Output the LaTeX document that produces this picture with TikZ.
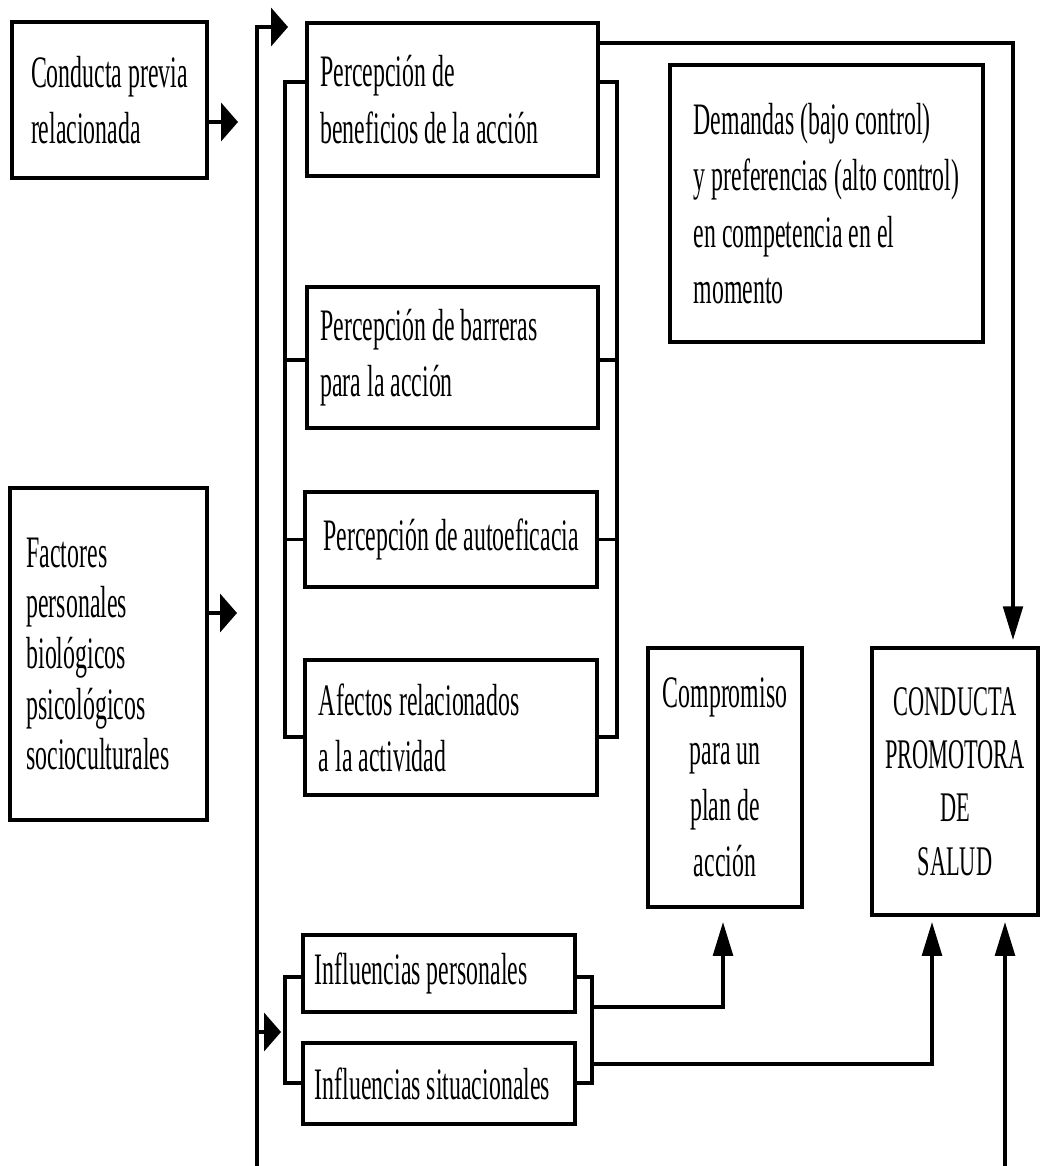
\documentclass[tikz,border=0pt]{standalone}
\usepackage{fontspec}
\setmainfont{Liberation Serif}[FakeStretch=0.53]
\usetikzlibrary{arrows.meta}

\begin{document}
\begin{tikzpicture}[x=0.025cm,y=-0.025cm,
box/.style={draw,line width=3pt,inner sep=0pt,font=\fontsize{32}{40}\selectfont},
leftbox/.style={box,align=flush left},
midbox/.style={box,align=center},
link/.style={line width=2.4pt},
harr/.style={link,-{Triangle[length=12pt,width=27pt]}},
varr/.style={link,-{Triangle[length=24pt,width=14pt]}}]
\useasboundingbox (0,0) rectangle (1044,1166);

% left column
\node[leftbox,minimum width=4.875cm,minimum height=3.9cm] (prev) at (109.5,100) {Conducta previa\\relacionada};
\node[leftbox,minimum width=4.925cm,minimum height=8.3cm,text width=4.1cm,font=\fontsize{32}{36}\selectfont] (fact) at (108.5,654) {Factores\\personales\\biológicos\\psicológicos\\socioculturales};

% perceptions
\node[leftbox,minimum width=7.275cm,minimum height=3.825cm,text width=6.6cm] (bene) at (452.5,99.5) {Percepción de\\beneficios de la acción};
\node[leftbox,minimum width=7.275cm,minimum height=3.525cm,text width=6.6cm] (barr) at (452.5,357.5) {Percepción de barreras\\para la acción};
\node[midbox,minimum width=7.3cm,minimum height=2.375cm] (auto) at (451,539.5) {Percepción de autoeficacia};
\node[leftbox,minimum width=7.3cm,minimum height=3.375cm,text width=6.6cm] (afec) at (451,727.5) {Afectos relacionados\\a la actividad};

% right part
\node[leftbox,minimum width=7.825cm,minimum height=6.925cm] (dema) at (826.5,203.5) {Demandas (bajo control)\\y preferencias (alto control)\\en competencia en el\\momento};
\node[midbox,minimum width=3.85cm,minimum height=6.475cm] (comp) at (725,777.5) {Compromiso\\para un\\plan de\\acción};
\node[midbox,minimum width=4.15cm,minimum height=6.675cm,font=\fontsize{30}{38}\selectfont] (cond) at (955,781.5) {CONDUCTA\\PROMOTORA\\DE\\SALUD};

% influences
\node[leftbox,minimum width=6.8cm,minimum height=1.925cm,text width=6.2cm] (pers) at (439,973.5) {Influencias personales};
\node[leftbox,minimum width=6.8cm,minimum height=2.025cm,text width=6.2cm] (situ) at (439,1083.5) {Influencias situacionales};

% free ends
\coordinate (prevtip) at (238,122);
\coordinate (facttip) at (237,613);
\coordinate (foot) at (257,1166);
\coordinate (headtip) at (288,27);
\coordinate (infltip) at (281,1032);
\coordinate (condtip) at (1013,640);
\coordinate (comptip) at (723,922);
\coordinate (condtipa) at (932,922);
\coordinate (foot2) at (1005,1166);
\coordinate (condtipb) at (1005,922);

\draw[harr] (prev.east |- prevtip) -- (prevtip);
\draw[harr] (fact.east |- facttip) -- (facttip);
\draw[harr] (foot) |- (headtip);
\draw[harr] (foot |- infltip) -- (infltip);

% brackets round the perceptions
\coordinate (lbr) at (285,82);
\coordinate (rbr) at (617,82);
\draw[link] (bene.west |- lbr) -- (lbr) |- (afec.west |- 0,737);
\draw[link] (barr.west |- 0,360) -- (lbr |- 0,360);
\draw[link] (auto.west) -- (lbr |- auto.west);
\draw[link] (bene.east |- rbr) -- (rbr) |- (afec.east |- 0,737);
\draw[link] (barr.east |- 0,360) -- (rbr |- 0,360);
\draw[link] (auto.east) -- (rbr |- auto.east);
\draw[varr] (bene.east |- 0,43) -| (condtip);

% brackets round the influences
\coordinate (ilb) at (285,977);
\coordinate (irb) at (592,977);
\draw[link] (pers.west |- ilb) -- (ilb) |- (situ.west |- 0,1083);
\draw[link] (pers.east |- irb) -- (irb) |- (situ.east |- 0,1083);
\draw[varr] (irb |- 0,1007) -| (comptip);
\draw[varr] (irb |- 0,1064) -| (condtipa);
\draw[varr] (foot2) -- (condtipb);
\end{tikzpicture}
\end{document}
